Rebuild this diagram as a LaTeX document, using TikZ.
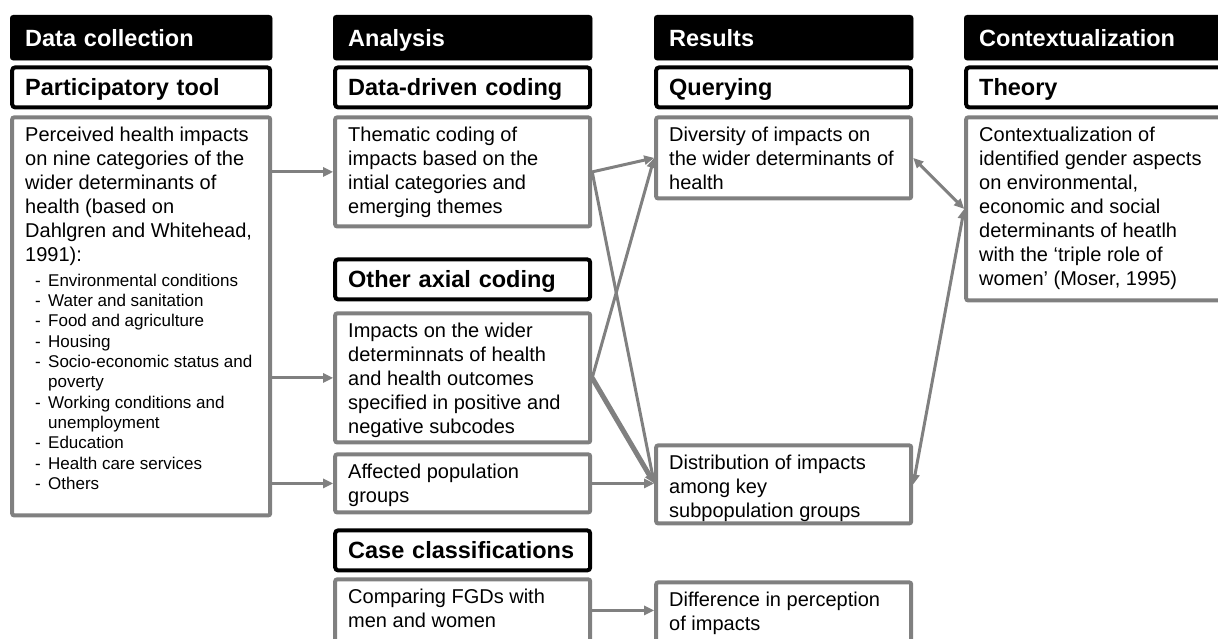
\documentclass[tikz,border=0pt]{standalone}
\usepackage{fontspec}
\setmainfont{Liberation Sans}
\usepackage{xcolor}
\usetikzlibrary{positioning, arrows.meta}

\definecolor{boxgray}{RGB}{128,128,128}
\newcommand{\bodysize}{\fontsize{20pt}{24pt}\selectfont}
\newcommand{\listsize}{\fontsize{17pt}{20.3pt}\selectfont}
\newcommand{\headsize}{\fontsize{23.5pt}{28pt}\selectfont\bfseries}
\newcommand{\celltxt}[3][229pt]{\parbox[c][#2][t]{#1}{\raggedright #3}}
\newcommand{\dashitem}[1]{\hspace*{10pt}\makebox[13pt][l]{-}#1}

\begin{document}
\begin{tikzpicture}[
    x=1pt, y=-1pt,
    head/.style={rectangle, draw=black, fill=black, rounded corners=3pt, text=white, font=\headsize, align=left, text width=229pt, inner xsep=15pt, minimum height=45pt, text height=16.8pt, text depth=0pt},
    sub/.style={rectangle, draw=black, line width=4pt, fill=white, rounded corners=3pt, font=\headsize, align=left, text width=229pt, inner xsep=13pt, minimum height=40pt, text height=16.8pt, text depth=0pt},
    cell/.style={rectangle, draw=boxgray, line width=4pt, fill=white, rounded corners=2pt, font=\bodysize, inner xsep=13pt, inner ysep=9.5pt},
    wide/.style={text width=232pt},
    link/.style={draw=boxgray, line width=3pt},
    arrow/.style={link, ->},
    >={Triangle[length=10pt, width=9pt]}
]
    \useasboundingbox (0,0) rectangle (1218,639);

    % column headers
    \node [head, wide, anchor=north west] (hdata) at (10,15) {Data collection};
    \node [head, anchor=north west] (hana) at (333,15) {Analysis};
    \node [head, anchor=north west] (hres) at (654,15) {Results};
    \node [head, anchor=north west] (hcon) at (964,15) {Contextualization};

    % data collection
    \node [sub, wide, below=5pt of hdata] (tool) {Participatory tool};
    \node [cell, below=6pt of tool] (percv) {\celltxt[232pt]{379pt}{Perceived health impacts\\
        on nine categories of the\\
        wider determinants of\\
        health (based on\\
        Dahlgren and Whitehead,\\
        1991):\par\vspace{4.7pt}
        {\listsize
        \dashitem{Environmental conditions}\\
        \dashitem{Water and sanitation}\\
        \dashitem{Food and agriculture}\\
        \dashitem{Housing}\\
        \dashitem{Socio-economic status and}\\
        \hspace*{23pt}poverty\\
        \dashitem{Working conditions and}\\
        \hspace*{23pt}unemployment\\
        \dashitem{Education}\\
        \dashitem{Health care services}\\
        \dashitem{Others}\par}}};

    % analysis
    \node [sub, below=5pt of hana] (ddc) {Data-driven coding};
    \node [cell, below=6pt of ddc] (thema) {\celltxt{90pt}{Thematic coding of\\ impacts based on the\\ intial categories and\\ emerging themes}};
    \node [sub, below=29pt of thema] (axial) {Other axial coding};
    \node [cell, below=10pt of axial] (impct) {\celltxt{110pt}{Impacts on the wider\\ determinnats of health\\ and health outcomes\\ specified in positive and\\ negative subcodes}};
    \node [cell, below=8pt of impct] (affct) {\celltxt{39pt}{Affected population\\ groups}};
    \node [sub, below=14pt of affct] (casecl) {Case classifications};
    \node [cell, below=5pt of casecl] (compar) {\celltxt{43pt}{Comparing FGDs with\\ men and women}};

    % results
    \node [sub, below=5pt of hres] (query) {Querying};
    \node [cell, below=6pt of query] (divers) {\celltxt{62pt}{Diversity of impacts on\\ the wider determinants of\\ health}};
    \node [cell, below=243pt of divers] (distr) {\celltxt{59pt}{Distribution of impacts\\ among key\\ subpopulation groups}};
    \node [cell, below=55pt of distr] (differ) {\celltxt{43pt}{Difference in perception\\ of impacts}};

    % contextualization
    \node [sub, below=5pt of hcon] (theory) {Theory};
    \node [cell, below=6pt of theory] (ctx) {\celltxt{164pt}{Contextualization of\\ identified gender aspects\\ on environmental,\\ economic and social\\ determinants of heatlh\\ with the ‘triple role of\\ women’ (Moser, 1995)}};

    \draw [arrow] (percv.east |- thema.west) -- (thema.west);
    \draw [arrow] (percv.east |- impct.west) -- (impct.west);
    \draw [arrow] (percv.east |- affct.west) -- (affct.west);
    \draw [arrow] (thema.east) -- (divers.west);
    \draw [arrow] (thema.east) -- (affct.east -| distr.west);
    \draw [arrow] (impct.east) -- (divers.west);
    \draw [arrow, line width=5pt] (impct.east) -- (affct.east -| distr.west);
    \draw [arrow] (affct.east) -- (affct.east -| distr.west);
    \draw [link, <->] (divers.east) -- (ctx.west);
    \draw [link, <->] (distr.east) -- (ctx.west);
    \draw [arrow] (compar.east) -- (compar.east -| differ.west);
\end{tikzpicture}
\end{document}
